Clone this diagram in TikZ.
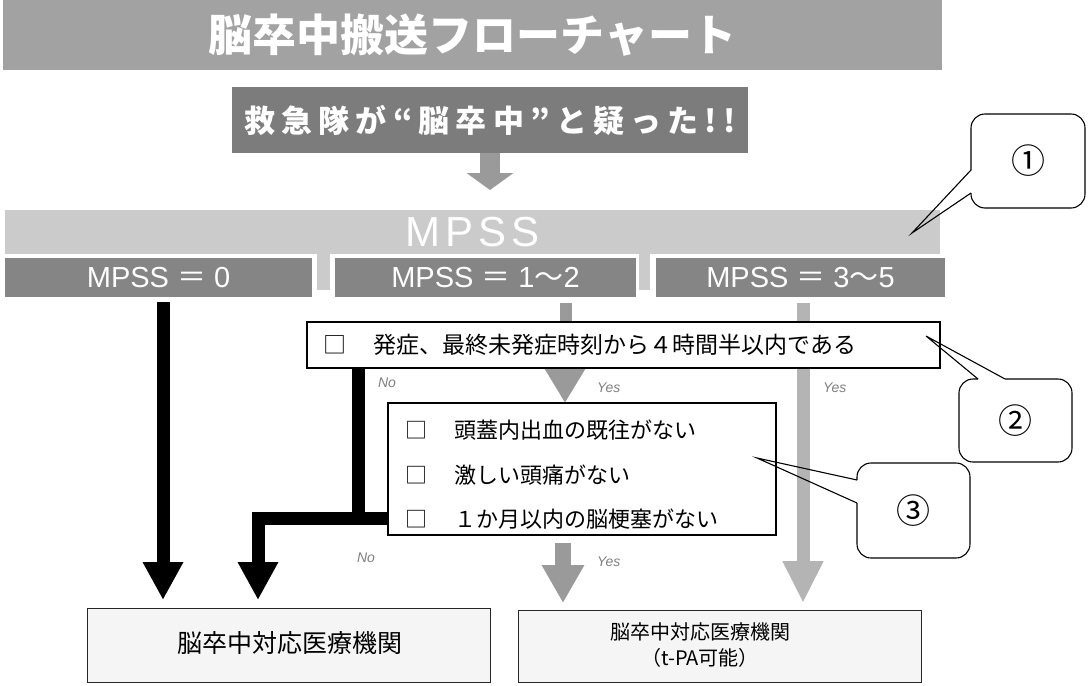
\documentclass[tikz,border=0pt]{standalone}
\usepackage{fontspec}
\setmainfont{Liberation Sans}
\newfontfamily\jp{Noto Sans CJK JP}
\usetikzlibrary{arrows.meta,calc}
\pgfdeclarelayer{bg}
\pgfdeclarelayer{paper}
\pgfsetlayers{paper,bg,main}
\definecolor{titlegray}{HTML}{A2A2A2}
\definecolor{subgray}{HTML}{7C7C7C}
\definecolor{bargray}{HTML}{CBCBCB}
\definecolor{boxgray}{HTML}{858585}
\definecolor{midgray}{HTML}{9A9A9A}
\definecolor{ltgray}{HTML}{B4B4B4}
\definecolor{hatch}{HTML}{F5F5F5}
\begin{document}
\begin{tikzpicture}[x=1pt,y=-1pt,
  every node/.style={inner sep=0pt, outer sep=0pt},
  bar/.style={rectangle, draw=none},
  frame/.style={rectangle, draw=black, line width=1.4pt, fill=white},
  endbox/.style={rectangle, draw=black!85, line width=1pt, fill=hatch},
  callout/.style={rectangle, draw=none, font=\jp\fontsize{34}{34}\selectfont},
  coline/.style={draw=black, line width=1.1pt, rounded corners=14pt},
  cotip/.style={draw=black, line width=1.1pt, line join=miter},
  lbl/.style={font=\itshape\fontsize{14}{14}\selectfont, text=gray, anchor=west},
  chk/.style={font=\jp\fontsize{23}{23}\selectfont, anchor=west},
  chkb/.style={font=\jp\fontsize{22}{22}\selectfont, anchor=west},
  mbox/.style={bar, fill=boxgray, minimum height=39pt, text=white, font=\fontsize{29}{29}\selectfont},
  blk/.style={draw=black, line width=13pt, line join=miter},
  head/.style={-{Triangle[width=38pt,length=38pt]}}
]
\useasboundingbox (0,0) rectangle (1088,686);
\begin{pgfonlayer}{paper}
\fill[white] (0,0) rectangle (1088,686);
\end{pgfonlayer}

% bars
\node[bar, fill=titlegray, minimum width=939pt, minimum height=70pt, text=white,
      font=\jp\bfseries\fontsize{44}{44}\selectfont] (title) at (472.5,35) {脳卒中搬送フローチャート};
\node[bar, fill=subgray, minimum width=516pt, minimum height=66pt, text=white,
      font=\jp\bfseries\fontsize{31}{31}\selectfont\addfontfeature{LetterSpace=20}] (sub) at (490,120) {救急隊が“脳卒中”と疑った!!};
\node[bar, fill=bargray, minimum width=935pt, minimum height=44pt, text=white,
      font=\fontsize{42}{42}\selectfont] (mpss) at (472.5,232) {M\hspace{5pt}P\hspace{5pt}S\hspace{5pt}S};
\fill[bargray] (317,254) rectangle (330,290);
\fill[bargray] (639,254) rectangle (650,290);

\node[mbox, minimum width=307pt] (A) at (158.5,277.5) {MPSS\hspace{8pt}{\jp ＝}\hspace{8pt}0};
\node[mbox, minimum width=301pt] (B) at (485.5,277.5) {MPSS\hspace{8pt}{\jp ＝}\hspace{8pt}1{\jp ～}2};
\node[mbox, minimum width=289pt] (C) at (800.5,277.5) {MPSS\hspace{8pt}{\jp ＝}\hspace{8pt}3{\jp ～}5};

% question boxes
\node[frame, minimum width=633pt, minimum height=46pt] (box1) at (623.5,345) {};
\node[chk] (t1) at (323,345) {□\hspace{28pt}発症、最終未発症時刻から４時間半以内である};
\node[frame, minimum width=388pt, minimum height=132pt] (box2) at (582,469) {};
\node[chkb] (l1) at (405,430) {□\hspace{28pt}頭蓋内出血の既往がない};
\node[chkb] (l2) at (405,475) {□\hspace{28pt}激しい頭痛がない};
\node[chkb] (l3) at (405,519) {□\hspace{28pt}１か月以内の脳梗塞がない};

% destinations
\node[endbox, minimum width=403pt, minimum height=74pt] (L) at (288.5,645) {};
\node[font=\jp\fontsize{25}{25}\selectfont] (lt) at (290,643) {脳卒中対応医療機関};
\node[endbox, minimum width=403pt, minimum height=72pt] (R) at (719.5,646) {};
\node[font=\jp\fontsize{20}{26}\selectfont, align=center] (rt) at (700,645) {脳卒中対応医療機関\\（t-PA可能）};

% labels
\node[lbl] (no1) at (378,383) {No};
\node[lbl] (yes1) at (597,388) {Yes};
\node[lbl] (yes2) at (823,388) {Yes};
\node[lbl] (no2) at (357,558) {No};
\node[lbl] (yes3) at (597,562) {Yes};

% connectors
\begin{pgfonlayer}{bg}
\draw[line width=20pt, midgray, -{Triangle[width=46pt,length=17pt]}, shorten >=20pt] (sub.south) -- (sub.south |- mpss.north);
\draw[blk, head, shorten <=5pt, shorten >=8pt] (A.south -| 163,0) -- (L.north -| 163,0);
\draw[line width=12pt, midgray, shorten <=6pt] (B.south -| 566,0) -- (box1.north -| 566,0);
\draw[line width=18pt, midgray, -{Triangle[width=38pt,length=34pt]}] (box1.south -| 565,0) -- (box2.north -| 565,0);
\draw[line width=16pt, midgray, -{Triangle[width=40pt,length=38pt]}, shorten <=8pt, shorten >=7pt] (box2.south -| 563,0) -- (R.north -| 563,0);
\draw[line width=13pt, ltgray, -{Triangle[width=38pt,length=42pt]}, shorten <=6pt, shorten >=7pt] (C.south -| 803,0) -- (R.north -| 803,0);
\draw[blk] (box1.south -| 358,0) -- (358,518);
\draw[blk, head, shorten >=8pt] (box2.west |- 0,518) -- (258,518) -- (L.north -| 258,0);
\end{pgfonlayer}

% callouts
\node[callout, minimum width=114pt, minimum height=94pt] (c1) at (1028,161) {①};
\node[callout, minimum width=113pt, minimum height=83pt] (c2) at (1015.5,420.5) {②};
\node[callout, minimum width=113pt, minimum height=95pt] (c3) at (913.5,510.5) {③};
\coordinate (p1) at (912,233);
\coordinate (p2) at (926,336);
\coordinate (p3) at (757,458);
\draw[coline] ($(c1.north west)+(0,56)$) -- (c1.north west) -- (c1.north east) -- (c1.south east) -- (c1.south west) -- ($(c1.north west)+(0,79)$);
\draw[cotip] ($(c1.north west)+(0,56)$) -- (p1) -- ($(c1.north west)+(0,79)$);
\draw[coline] ($(c2.north west)+(46,0)$) -- (c2.north east) -- (c2.south east) -- (c2.south west) -- (c2.north west) -- ($(c2.north west)+(19,0)$);
\draw[cotip] ($(c2.north west)+(19,0)$) -- (p2) -- ($(c2.north west)+(46,0)$);
\draw[coline] ($(c3.north west)+(0,40)$) -- (c3.south west) -- (c3.south east) -- (c3.north east) -- (c3.north west) -- ($(c3.north west)+(0,17)$);
\draw[cotip] ($(c3.north west)+(0,17)$) -- (p3) -- ($(c3.north west)+(0,40)$);
\end{tikzpicture}
\end{document}
